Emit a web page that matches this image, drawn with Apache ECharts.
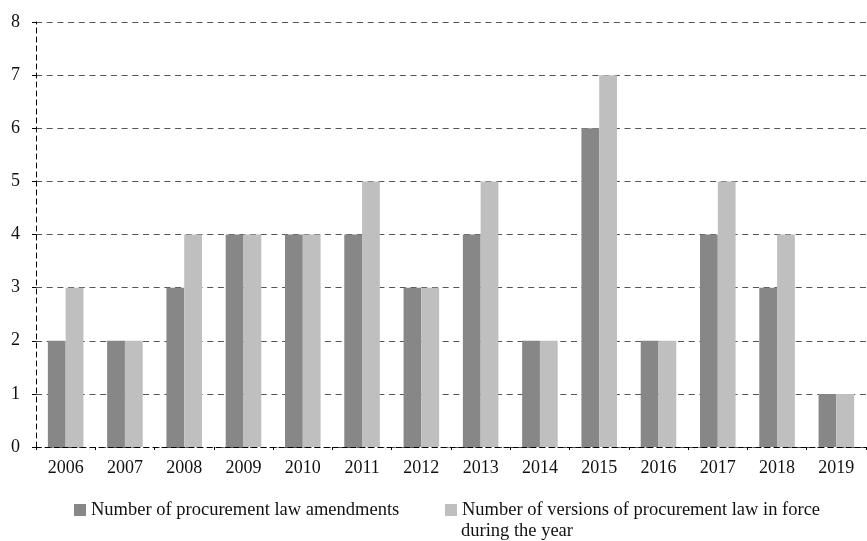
<!DOCTYPE html>
<html><head><meta charset="utf-8">
<script src="https://cdn.jsdelivr.net/npm/echarts@6/dist/echarts.min.js"></script>
<style>html,body{margin:0;padding:0;background:#fff}#c{width:867px;height:541px}</style>
</head><body><div id="c"></div>
<script>
const years = ['2006','2007','2008','2009','2010','2011','2012','2013','2014','2015','2016','2017','2018','2019'];
const amendments = [2,2,3,4,4,4,3,4,2,6,2,4,3,1];
const versions = [3,2,4,4,4,5,3,5,2,7,2,5,4,1];
const yTicks = [0,1,2,3,4,5,6,7,8];
const seriesNames = ['Number of procurement law amendments','Number of versions of procurement law in force'];
const legendSecondLine = 'during the year';

const font = 'Liberation Serif, Times New Roman, serif';
const chart = echarts.init(document.getElementById('c'), null, {renderer:'canvas'});
const legendBase = {top:499, padding:0, itemWidth:12, itemHeight:12, icon:'rect', itemGap:4,
  textStyle:{fontFamily:font,fontSize:18.5,color:'#111',lineHeight:22}};
chart.setOption({
  animation:false,
  textStyle:{fontFamily:font},
  grid:{left:36,right:1,top:22,bottom:94,containLabel:false},
  legend:[
    Object.assign({left:74, data:[seriesNames[0]]}, legendBase),
    Object.assign({left:445, data:[seriesNames[1]]}, legendBase)
  ],
  graphic:[{type:'text', left:461, top:522, style:{text:legendSecondLine, font:'18.5px '+font, fill:'#111'}}],
  xAxis:{
    type:'category', data:years,
    axisLine:{lineStyle:{color:'#000',type:[5,4],width:1}},
    axisTick:{show:true,length:3,lineStyle:{color:'#000'}},
    axisLabel:{fontFamily:font,fontSize:18,color:'#111',margin:12}
  },
  yAxis:{
    type:'value', min:yTicks[0], max:yTicks[yTicks.length-1], interval:1,
    axisLine:{show:true,lineStyle:{color:'#000',type:[5,4],width:1}},
    axisTick:{show:true,length:4,lineStyle:{color:'#000'}},
    axisLabel:{fontFamily:font,fontSize:18,color:'#111',margin:16},
    splitLine:{show:true,lineStyle:{color:'#555',type:[6,4.7],width:1.2}}
  },
  series:[
    {name:seriesNames[0],type:'bar',data:amendments,barGap:'0%',barCategoryGap:'40%',itemStyle:{color:'#878787'}},
    {name:seriesNames[1],type:'bar',data:versions,barGap:'0%',barCategoryGap:'40%',itemStyle:{color:'#bfbfbf'}}
  ]
});
</script></body></html>
